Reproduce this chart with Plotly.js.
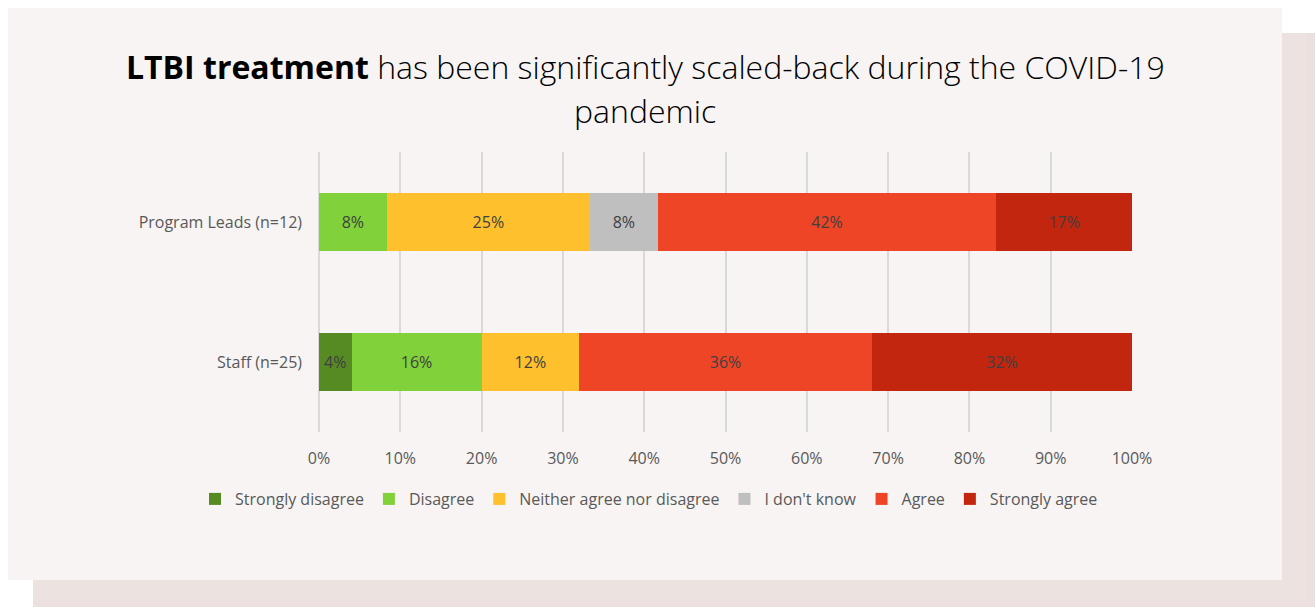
<!DOCTYPE html>
<html>
<head>
<meta charset="utf-8">
<script src="https://cdn.plot.ly/plotly-3.0.1.min.js"></script>
<style>
  html, body { margin: 0; padding: 0; background: #ffffff; width: 1315px; height: 607px; overflow: hidden; }
  #shadow { position: absolute; left: 33px; top: 33px; width: 1282px; height: 574px; background: #ebe0de; }
  #shadow2 { position: absolute; left: 33px; top: 33px; width: 1273px; height: 567px; background: #ece3e1; }
  #card { position: absolute; left: 8px; top: 8px; width: 1274px; height: 572px; background: #f7f4f3; }
  #chart { position: absolute; left: 0; top: 0; width: 1315px; height: 607px; }
</style>
</head>
<body>
<div id="shadow"></div>
<div id="shadow2"></div>
<div id="card"></div>
<div id="chart"></div>
<script>
const categories = ['Staff (n=25)', 'Program Leads (n=12)'];
const seriesNames = ['Strongly disagree', 'Disagree', 'Neither agree nor disagree', "I don't know", 'Agree', 'Strongly agree'];
const seriesColors = ['#568b24', '#80d13a', '#fec02c', '#bfbfbf', '#ef4527', '#c2260e'];
// values in percent: [Staff, Program Leads]
const stronglyDisagree = [4, 0];
const disagree = [16, 8.33];
const neither = [12, 25];
const dontKnow = [0, 8.33];
const agree = [36, 41.67];
const stronglyAgree = [32, 16.67];
const xTickVals = [0, 10, 20, 30, 40, 50, 60, 70, 80, 90, 100];
const xTickText = ['0%', '10%', '20%', '30%', '40%', '50%', '60%', '70%', '80%', '90%', '100%'];
const titleBold = 'LTBI treatment';
const titleRest = ' has been significantly scaled-back during the COVID-19';
const titleLine2 = 'pandemic';

const allSeries = [stronglyDisagree, disagree, neither, dontKnow, agree, stronglyAgree];
const labelFont = 'Open Sans, sans-serif';
const traces = allSeries.map((vals, i) => ({
  type: 'bar',
  orientation: 'h',
  name: seriesNames[i],
  y: categories,
  x: vals,
  marker: { color: seriesColors[i], line: { width: 0 } },
  text: vals.map(v => v > 0 ? Math.round(v) + '%' : ''),
  textposition: 'inside',
  insidetextanchor: 'middle',
  constraintext: 'none',
  textfont: { family: labelFont, size: 16, color: '#404040' },
  hoverinfo: 'skip',
  width: 0.41
}));

const W = 1315, H = 607;
const m = { l: 20, r: 20, t: 152, b: 175 };
const plotH = H - m.t - m.b;
const gsW = W - m.l - m.r;
function py(px) { return 1 + (m.t - px) / plotH; }
function pxX(px) { return (px - m.l) / gsW; }

const layout = {
  width: W, height: H,
  margin: m,
  paper_bgcolor: 'rgba(0,0,0,0)',
  plot_bgcolor: 'rgba(0,0,0,0)',
  barmode: 'stack',
  showlegend: true,
  font: { family: labelFont, size: 16, color: '#595959' },
  xaxis: {
    domain: [pxX(319), pxX(1132)],
    range: [0, 100],
    tickvals: xTickVals,
    ticktext: xTickText,
    showgrid: true,
    gridcolor: '#d9d9d9',
    gridwidth: 2,
    zeroline: true,
    zerolinecolor: '#d9d9d9',
    zerolinewidth: 2,
    showline: false,
    ticks: '',
    ticklabelstandoff: 15,
    tickfont: { family: labelFont, size: 16, color: '#595959' },
    fixedrange: true
  },
  yaxis: {
    type: 'category',
    categoryorder: 'array',
    categoryarray: categories,
    range: [-0.5, 1.5],
    showgrid: false,
    zeroline: false,
    showline: false,
    ticks: '',
    ticklabelstandoff: 16,
    tickfont: { family: labelFont, size: 16, color: '#595959' },
    fixedrange: true
  },
  legend: {
    orientation: 'h',
    x: pxX(649), xanchor: 'center',
    y: py(499), yanchor: 'middle',
    font: { family: labelFont, size: 16, color: '#595959' },
    traceorder: 'normal',
    itemwidth: 30,
    bgcolor: 'rgba(0,0,0,0)',
    itemclick: false, itemdoubleclick: false
  },
  annotations: [
    {
      xref: 'paper', yref: 'paper',
      x: pxX(645), y: py(67), xanchor: 'center', yanchor: 'middle',
      text: '<b>' + titleBold + '</b>' + titleRest,
      showarrow: false,
      font: { family: 'Open Sans, sans-serif', size: 32, color: '#000000', weight: 300 }
    },
    {
      xref: 'paper', yref: 'paper',
      x: pxX(645), y: py(110), xanchor: 'center', yanchor: 'middle',
      text: titleLine2,
      showarrow: false,
      font: { family: 'Open Sans, sans-serif', size: 32, color: '#000000', weight: 300 }
    }
  ]
};

Plotly.newPlot('chart', traces, layout, { displayModeBar: false, staticPlot: true });
</script>
</body>
</html>
